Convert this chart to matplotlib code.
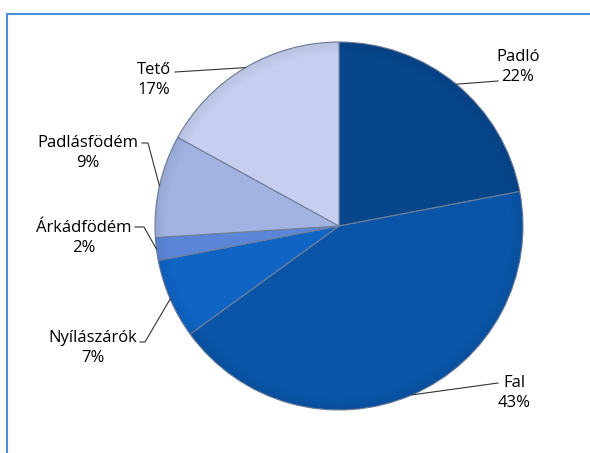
import numpy as np
import matplotlib
matplotlib.use('Agg')
from matplotlib import pyplot as plt
import matplotlib.patches as mpatches

# Data
labels = ['Padló', 'Fal', 'Nyílászárók', 'Árkádfödém', 'Padlásfödém', 'Tető']
values = [22, 43, 7, 2, 9, 17]
colors = ['#08468c', '#0a55a8', '#0f64c4', '#5b86d8', '#a2b3e2', '#c6cfef']

W, H = 590, 453
fig = plt.figure(figsize=(W / 100, H / 100), dpi=100)
ax = fig.add_axes([0, 0, 1, 1])

cx, cy, r = 339, H - 226, 184
wedges, _ = ax.pie(values, colors=colors, startangle=90, counterclock=False,
                   center=(cx, cy), radius=r,
                   wedgeprops=dict(edgecolor='#6f7f99', linewidth=0.8))
# pie resets the limits, so set them afterwards (1 unit = 1 pixel)
ax.set_xlim(0, W)
ax.set_ylim(0, H)
ax.set_aspect('auto')
ax.axis('off')

# frame of the chart area
ax.add_patch(mpatches.Rectangle((6.5, -5), W, H - 13.5 + 5, fill=False,
                                edgecolor='#4a90d6', linewidth=1.5))

# bevel / shading near the rim
for i in range(10):
    ax.add_patch(mpatches.Wedge((cx, cy), r - i * 1.2, 0, 360, width=1.2,
                                facecolor='black', alpha=0.06 * (10 - i) / 10,
                                linewidth=0))

# label centres and leader line points, in pixels from the top-left
text_pos = [(518, 67), (514, 393), (93, 348), (84, 238), (88, 153), (154, 80)]
elbows = [(498, 81), (498, 383), (145, 342), (144, 227), (148, 143), (175, 72)]
ends = [(498, 81), (498, 383), (140, 342), (135, 227), (142, 143), (175, 72)]

for w, lab, v, tp, el, en in zip(wedges, labels, values, text_pos, elbows, ends):
    mid = np.deg2rad((w.theta1 + w.theta2) / 2)
    ax_x = cx + r * np.cos(mid)
    ax_y = cy + r * np.sin(mid)
    ax.plot([ax_x, el[0], en[0]], [ax_y, H - el[1], H - en[1]],
            color='#333333', linewidth=0.8)
    ax.text(tp[0], H - tp[1], f'{lab}\n{v}%', ha='center', va='center',
            fontsize=12, family=['Open Sans', 'DejaVu Sans'], linespacing=1.4)

plt.savefig('out.png', dpi=100)
